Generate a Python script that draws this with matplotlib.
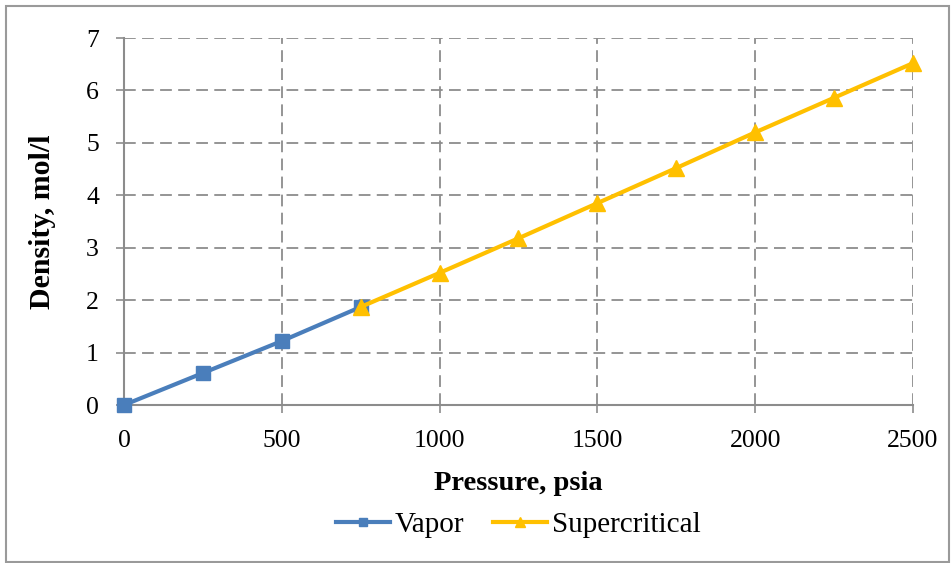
import matplotlib
matplotlib.use("Agg")
import matplotlib.pyplot as plt
from matplotlib.patches import Rectangle

vapor_p = [0, 250, 500, 750]
vapor_d = [0.0, 0.61, 1.22, 1.87]
super_p = [750, 1000, 1250, 1500, 1750, 2000, 2250, 2500]
super_d = [1.87, 2.52, 3.18, 3.85, 4.52, 5.20, 5.86, 6.52]
x_ticks = [0, 500, 1000, 1500, 2000, 2500]
y_ticks = [0, 1, 2, 3, 4, 5, 6, 7]

plt.rcParams['font.family'] = ['Liberation Serif', 'DejaVu Serif']

W, H = 953, 563
fig = plt.figure(figsize=(W / 100, H / 100), dpi=100)
ax = fig.add_axes([0.1301, 0.2806, 0.958 - 0.1301, 0.9325 - 0.2806])

blue = '#4a7ebb'
gold = '#ffc000'
ax.plot(vapor_p, vapor_d, color=blue, lw=3, marker='s', ms=10, label='Vapor', zorder=3, clip_on=False)
ax.plot(super_p, super_d, color=gold, lw=3, marker='^', ms=11, label='Supercritical', zorder=4, clip_on=False)

ax.set_xlim(0, 2500)
ax.set_ylim(0, 7)
ax.set_xticks(x_ticks)
ax.set_yticks(y_ticks)
ax.grid(True, color='#8c8c8c', linestyle=(0, (6.5, 3.5)), lw=1.3)
ax.set_axisbelow(True)
for s in ['top', 'right']:
    ax.spines[s].set_visible(False)
for s in ['left', 'bottom']:
    ax.spines[s].set_color('#8c8c8c')
    ax.spines[s].set_linewidth(1.5)
ax.tick_params(colors='#8c8c8c', labelcolor='black', length=6, width=1.2, pad=12)
for lab in ax.get_xticklabels() + ax.get_yticklabels():
    lab.set_fontsize(18.5)

ax.set_xlabel('Pressure, psia', fontsize=20.5, fontweight='bold', labelpad=14)
ax.set_ylabel('Density, mol/l', fontsize=21.5, fontweight='bold', labelpad=22)

leg = ax.legend(loc='upper center', bbox_to_anchor=(0.5, -0.22), ncol=2, frameon=False,
                fontsize=21, handlelength=1.85, columnspacing=1.0, handletextpad=0.17,
                markerscale=0.6)

fig.add_artist(Rectangle((6 / W, 1 / H), (W - 10) / W, (H - 7) / H, transform=fig.transFigure,
                         fill=False, edgecolor='#9a9a9a', lw=1.5))

fig.savefig('out.png', dpi=100)
